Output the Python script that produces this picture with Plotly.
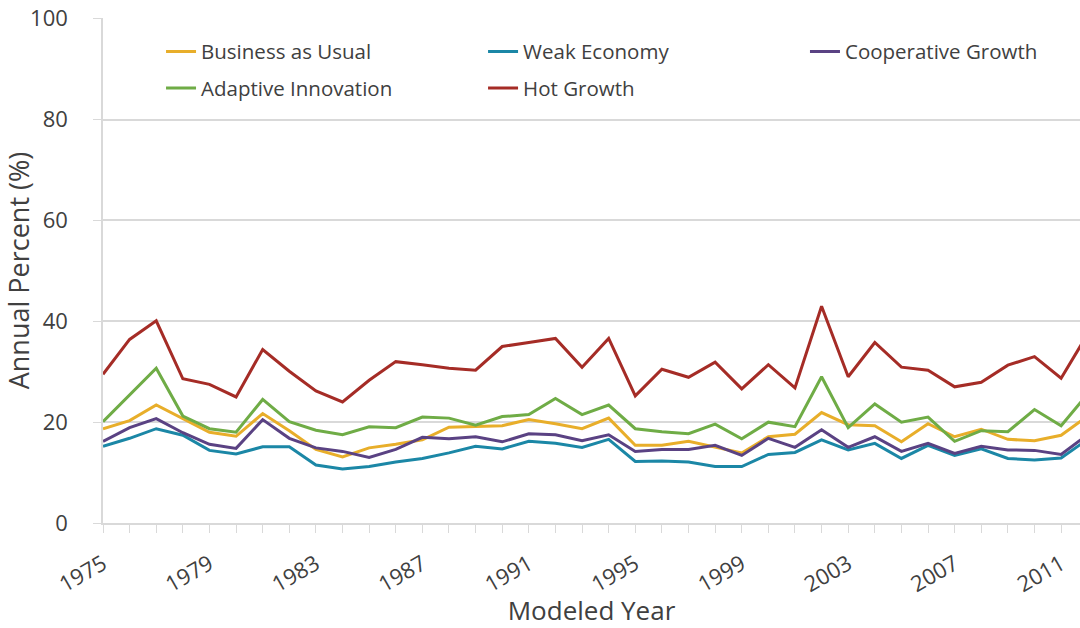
import plotly.graph_objects as go

years = list(range(1975, 2013))

business_as_usual = [18.7, 20.3, 23.4, 20.7, 18.0, 17.2, 21.7, 18.3, 14.6, 13.1, 14.9, 15.6, 16.5,
                     19.0, 19.2, 19.3, 20.5, 19.7, 18.7, 20.8, 15.4, 15.4, 16.2, 15.1,
                     13.9, 17.1, 17.6, 21.9, 19.5, 19.3, 16.1, 19.7, 17.1, 18.6, 16.6, 16.3, 17.4, 21.2]
weak_economy = [15.2, 16.8, 18.7, 17.4, 14.4, 13.7, 15.1, 15.1, 11.5, 10.7, 11.2, 12.1, 12.8,
                13.9, 15.2, 14.7, 16.2, 15.8, 15.0, 16.6, 12.2, 12.3, 12.1, 11.2,
                11.2, 13.6, 14.0, 16.5, 14.5, 15.8, 12.8, 15.4, 13.4, 14.7, 12.8, 12.5, 12.9, 16.6]
cooperative_growth = [16.2, 18.9, 20.7, 17.9, 15.6, 14.8, 20.5, 16.8, 14.9, 14.2, 13.0, 14.6, 17.0,
                      16.7, 17.1, 16.1, 17.7, 17.5, 16.3, 17.5, 14.2, 14.6, 14.6, 15.4,
                      13.4, 16.8, 15.0, 18.5, 15.0, 17.1, 14.2, 15.8, 13.8, 15.2, 14.5, 14.4, 13.6, 17.5]
adaptive_innovation = [20.1, 25.5, 30.7, 21.2, 18.7, 18.0, 24.5, 20.1, 18.4, 17.5, 19.1, 18.9, 21.0,
                       20.8, 19.4, 21.1, 21.5, 24.7, 21.5, 23.4, 18.7, 18.1, 17.7, 19.6,
                       16.7, 20.0, 19.1, 29.0, 18.9, 23.6, 20.0, 21.0, 16.2, 18.3, 18.1, 22.5, 19.3, 25.6]
hot_growth = [29.5, 36.4, 40.1, 28.6, 27.5, 25.0, 34.4, 30.1, 26.2, 24.0, 28.3, 32.0, 31.4,
              30.7, 30.3, 35.0, 35.8, 36.6, 30.9, 36.6, 25.2, 30.5, 28.9, 31.9,
              26.6, 31.4, 26.8, 43.0, 29.0, 35.8, 30.9, 30.3, 27.0, 27.9, 31.3, 33.0, 28.7, 37.5]

series_names = ["Business as Usual", "Weak Economy", "Cooperative Growth", "Adaptive Innovation", "Hot Growth"]
series_values = [business_as_usual, weak_economy, cooperative_growth, adaptive_innovation, hot_growth]
series_colors = ["#E8AE2A", "#1B87A6", "#5A4283", "#6FAC46", "#A52C26"]
# legend column for each series (three columns, two rows)
series_legend = ["legend", "legend2", "legend3", "legend", "legend2"]

x_tick_vals = list(range(1975, 2012, 4))
y_tick_vals = [0, 20, 40, 60, 80, 100]

font_family = "Open Sans, Lato, sans-serif"
text_color = "#404040"

fig = go.Figure()
for name, vals, col, lg in zip(series_names, series_values, series_colors, series_legend):
    fig.add_trace(go.Scatter(x=years, y=vals, name=name, mode="lines", legend=lg,
                             legendgroup=name,
                             line=dict(color=col, width=3)))

legend_common = dict(orientation="v", y=0.973, xanchor="left", yanchor="top",
                     font=dict(size=20.5, color=text_color), bgcolor="rgba(0,0,0,0)",
                     tracegroupgap=7, itemwidth=30)

fig.update_layout(
    width=1080, height=628,
    margin=dict(l=103, r=0, t=18, b=105),
    paper_bgcolor="white", plot_bgcolor="white",
    font=dict(family=font_family, color=text_color, size=20),
    showlegend=True,
    legend=dict(x=0.0594, **legend_common),
    legend2=dict(x=0.389, **legend_common),
    legend3=dict(x=0.7185, **legend_common),
)
fig.update_xaxes(
    range=[1975, 2011.71], tickmode="array", tickvals=x_tick_vals,
    ticktext=[str(v) for v in x_tick_vals], tickangle=-30,
    showgrid=False, showline=True, linecolor="#D9D9D9", linewidth=1.5,
    ticks="outside", ticklen=8, tickcolor="#D9D9D9",
    minor=dict(ticks="outside", ticklen=8, tickcolor="#D9D9D9", dtick=1, tick0=1975),
    tickfont=dict(size=22, color=text_color), ticklabelstandoff=10,
    ticklabeloverflow="allow",
    title=dict(text="Modeled Year", font=dict(size=26, color=text_color), standoff=26),
    zeroline=False, automargin=False,
)
fig.update_yaxes(
    range=[0, 100.15], tickmode="array", tickvals=y_tick_vals,
    showgrid=True, gridcolor="#D9D9D9", gridwidth=1.5,
    showline=True, linecolor="#D9D9D9", linewidth=1.5,
    ticks="outside", ticklen=8, tickcolor="#D9D9D9",
    tickfont=dict(size=22, color=text_color), ticklabelstandoff=21,
    ticklabeloverflow="allow",
    title=dict(text="Annual Percent (%)", font=dict(size=27, color=text_color), standoff=3),
    zeroline=False, automargin=True,
)

fig.write_html("out.html", config={"displayModeBar": False},
               post_script="document.body.style.margin='0';")
